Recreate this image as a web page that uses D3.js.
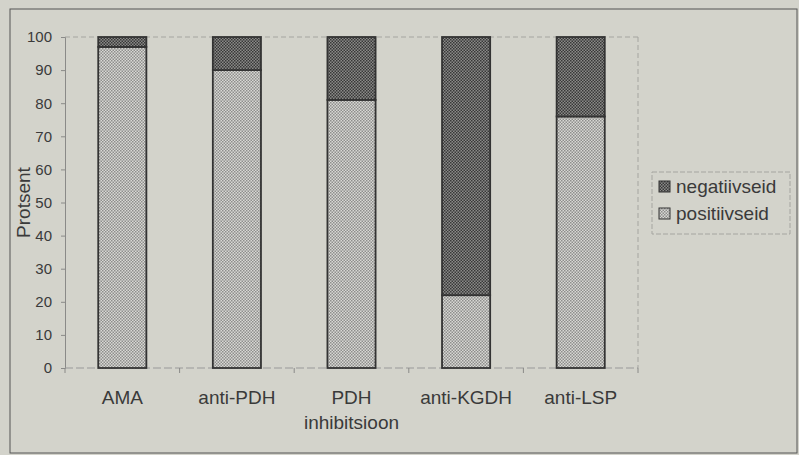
<!DOCTYPE html>
<html>
<head>
<meta charset="utf-8">
<script src="https://cdn.jsdelivr.net/npm/d3@7"></script>
<style>
  body { margin: 0; background: #d3d3cb; }
  svg { display: block; }
</style>
</head>
<body>
<svg id="chart" width="799" height="455"></svg>
<script>
const categories = [["AMA"], ["anti-PDH"], ["PDH", "inhibitsioon"], ["anti-KGDH"], ["anti-LSP"]];
const positiivseid = [97, 90, 81, 22, 76];
const negatiivseid = [3, 10, 19, 78, 24];
const yTicks = [0, 10, 20, 30, 40, 50, 60, 70, 80, 90, 100];
const seriesNames = ["negatiivseid", "positiivseid"];

const svg = d3.select("#chart");
const width = 799, height = 455;
const margin = { left: 65, right: 161, top: 37, bottom: 87 };
const font = "Liberation Sans, Arial, sans-serif";
const ink = "#3a3a3a";

// background + outer frame
svg.append("rect").attr("width", width).attr("height", height).attr("fill", "#d3d3cb");
svg.append("rect")
  .attr("x", 10).attr("y", 9).attr("width", 787).attr("height", 444)
  .attr("fill", "none").attr("stroke", "#555").attr("stroke-width", 1);

// checker patterns
const defs = svg.append("defs");
const makePattern = (id, a, b) => {
  const p = defs.append("pattern").attr("id", id)
    .attr("width", 3).attr("height", 3).attr("patternUnits", "userSpaceOnUse");
  p.append("rect").attr("width", 3).attr("height", 3).attr("fill", a);
  p.append("rect").attr("width", 1.5).attr("height", 1.5).attr("fill", b);
  p.append("rect").attr("x", 1.5).attr("y", 1.5).attr("width", 1.5).attr("height", 1.5).attr("fill", b);
};
makePattern("pat-pos", "#d8d8d4", "#8e8e8c");
makePattern("pat-neg", "#8a8a88", "#383838");

const x = d3.scaleBand()
  .domain(d3.range(categories.length))
  .range([margin.left, width - margin.right])
  .paddingInner(0.58).paddingOuter(0.29);
const y = d3.scaleLinear().domain([0, 100]).range([height - margin.bottom, margin.top]);

const x0 = margin.left, x1 = width - margin.right;

// dotted top and right plot borders
svg.append("line").attr("x1", x0).attr("x2", x1).attr("y1", y(100)).attr("y2", y(100))
  .attr("stroke", "#a5a5a0").attr("stroke-dasharray", "5,3");
svg.append("line").attr("x1", x1).attr("x2", x1).attr("y1", y(100)).attr("y2", y(0))
  .attr("stroke", "#a5a5a0").attr("stroke-dasharray", "5,3");

// y axis
const yAxis = svg.append("g").attr("transform", `translate(${x0},0)`)
  .call(d3.axisLeft(y).tickValues(yTicks).tickSize(4).tickPadding(9));
yAxis.select(".domain").attr("stroke", "#8a8a88");
yAxis.selectAll(".tick line").attr("stroke", "#8a8a88");
yAxis.selectAll("text").attr("font-family", font)
  .attr("font-size", 15).attr("fill", ink);

// x axis
const xAxisG = svg.append("g").attr("transform", `translate(0,${y(0)})`);
xAxisG.append("line").attr("x1", x0).attr("x2", x1).attr("stroke", "#999").attr("stroke-dasharray", "8,3");
const bounds = d3.range(categories.length + 1).map(i => x0 + i * (x1 - x0) / categories.length);
xAxisG.selectAll(".xtick").data(bounds).enter().append("line")
  .attr("x1", d => d).attr("x2", d => d).attr("y1", 0).attr("y2", 5).attr("stroke", "#8a8a88");
const labels = xAxisG.selectAll(".xlabel").data(categories).enter().append("text")
  .attr("text-anchor", "middle")
  .attr("font-family", font)
  .attr("font-size", 19).attr("fill", ink)
  .attr("transform", (_, i) => `translate(${x(i) + x.bandwidth() / 2},36)`);
labels.selectAll("tspan").data(d => d).enter().append("tspan")
  .attr("x", 0).attr("dy", (_, j) => j === 0 ? 0 : 25).text(d => d);

// y axis title
svg.append("text")
  .attr("transform", `translate(30,${(y(0) + y(100)) / 2}) rotate(-90)`)
  .attr("text-anchor", "middle")
  .attr("font-family", font)
  .attr("font-size", 19).attr("fill", ink)
  .text("Protsent");

// stacked bars
const bars = svg.append("g");
categories.forEach((_, i) => {
  bars.append("rect")
    .attr("x", x(i)).attr("width", x.bandwidth())
    .attr("y", y(positiivseid[i])).attr("height", y(0) - y(positiivseid[i]))
    .attr("fill", "url(#pat-pos)").attr("stroke", "#333").attr("stroke-width", 1.8);
  bars.append("rect")
    .attr("x", x(i)).attr("width", x.bandwidth())
    .attr("y", y(positiivseid[i] + negatiivseid[i])).attr("height", y(positiivseid[i]) - y(positiivseid[i] + negatiivseid[i]))
    .attr("fill", "url(#pat-neg)").attr("stroke", "#333").attr("stroke-width", 1.8);
});

// legend
const legend = svg.append("g").attr("transform", "translate(652,172)");
legend.append("rect").attr("width", 138).attr("height", 62)
  .attr("fill", "none").attr("stroke", "#a5a5a0").attr("stroke-dasharray", "5,2");
seriesNames.forEach((name, i) => {
  const gy = 15 + i * 27;
  legend.append("rect").attr("x", 7).attr("y", gy - 6).attr("width", 11).attr("height", 11)
    .attr("fill", name === "negatiivseid" ? "url(#pat-neg)" : "url(#pat-pos)")
    .attr("stroke", "#333").attr("stroke-width", 1);
  legend.append("text").attr("x", 24).attr("y", gy + 6)
    .attr("font-family", font)
    .attr("font-size", 19).attr("fill", ink).text(name);
});
</script>
</body>
</html>
